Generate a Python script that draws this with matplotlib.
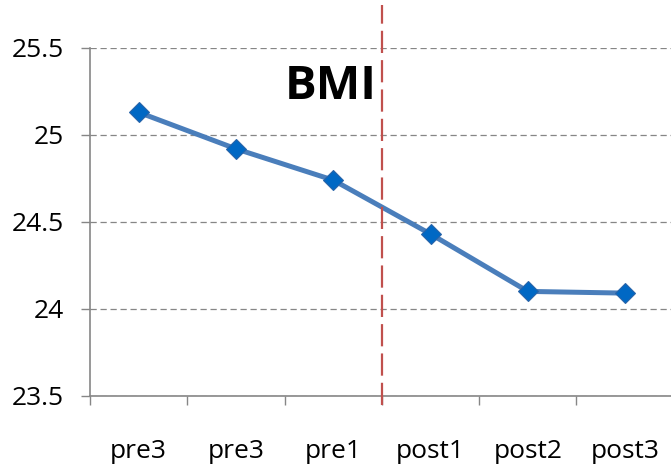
import matplotlib as mpl
mpl.use('Agg')

import matplotlib.pyplot as plt
from matplotlib.ticker import FixedLocator, NullFormatter

plt.rcParams['font.family'] = ['Open Sans', 'DejaVu Sans']

# BMI per time point
categories = ['pre3', 'pre3', 'pre1', 'post1', 'post2', 'post3']
bmi = [25.13, 24.92, 24.74, 24.43, 24.10, 24.09]
y_ticks = [23.5, 24, 24.5, 25, 25.5]
y_tick_labels = ['23.5', '24', '24.5', '25', '25.5']

W, H = 671, 467
fig = plt.figure(figsize=(W / 100, H / 100), dpi=100, facecolor='white')
ax = fig.add_axes([90 / W, (H - 395.7) / H, 583.8 / W, 347.7 / H])

grey = '#868686'
x = list(range(len(categories)))

ax.plot(x, bmi, color='#4A7EBB', linewidth=3.6, zorder=3,
        marker='D', markersize=10.5, markerfacecolor='#0068C4',
        markeredgecolor='#2A64A8', markeredgewidth=0.8)

ax.set_xlim(-0.5, len(categories) - 0.5)
ax.set_ylim(23.5, 25.5)

# horizontal dashed grid
ax.set_yticks(y_ticks)
ax.set_yticklabels(y_tick_labels)
ax.yaxis.grid(True, color=grey, linestyle=(0, (5, 3)), linewidth=0.9)
ax.set_axisbelow(True)

# ticks between categories, labels in the middle
ax.xaxis.set_major_locator(FixedLocator([i - 0.5 for i in range(len(categories) + 1)]))
ax.xaxis.set_major_formatter(NullFormatter())
ax.set_xticks(x, minor=True)
ax.set_xticklabels(categories, minor=True)
ax.tick_params(axis='x', which='minor', length=0, pad=31, labelsize=19)
ax.tick_params(axis='x', which='major', length=6.5, width=1, color=grey)
ax.tick_params(axis='y', length=6.5, width=1, color=grey, pad=12, labelsize=19)

for side in ['top', 'right']:
    ax.spines[side].set_visible(False)
for side in ['left', 'bottom']:
    ax.spines[side].set_color(grey)
    ax.spines[side].set_linewidth(1.2)

# split between pre and post
ax.axvline(2.5, ymin=-0.026, ymax=1.125, color='#C0504D', linewidth=1.6,
           linestyle=(0, (10, 3.2)), clip_on=False, zorder=4)

fig.text(285 / W, 1 - 99 / H, 'BMI', fontsize=34, fontweight='bold',
         ha='left', va='baseline', color='black')

fig.savefig('out.png', dpi=100, facecolor='white')
